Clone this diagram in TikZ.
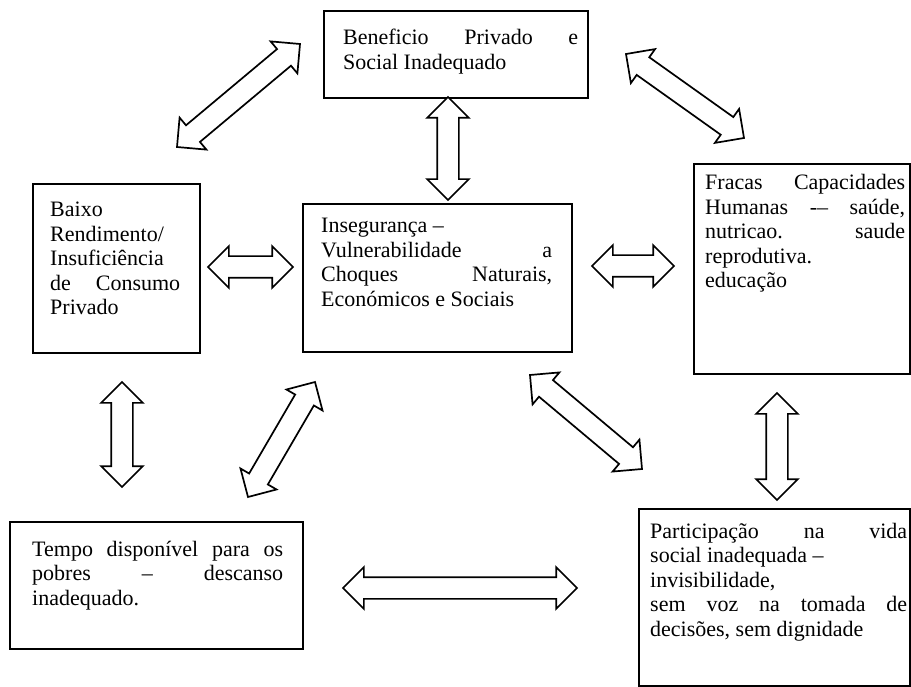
\documentclass[tikz,border=0pt]{standalone}
\usepackage{fontspec}
\setmainfont{Liberation Serif}
\usetikzlibrary{shapes.arrows,calc}
\tolerance=10000
\hyphenpenalty=10000

\tikzset{
  caixa/.style={draw, line width=1.8pt, inner sep=0pt, anchor=north west},
  texto/.style={inner sep=0pt, anchor=base west, align=justify,
    font=\fontsize{22}{24.5}\selectfont},
  seta/.style={double arrow, draw, line width=1.7pt, inner xsep=0pt, inner ysep=10pt,
    minimum width=41pt, double arrow head extend=10pt, fill=white}
}
% seta dupla oca entre dois pontos
\newcommand{\setadupla}[2]{%
  \path let \p1=(#1), \p2=(#2), \n1={veclen(\x2-\x1,\y2-\y1)},
    \n2={atan2(\y2-\y1,\x2-\x1)} in
    node[seta, minimum height=\n1, rotate=\n2] (s#1) at ($(#1)!.5!(#2)$) {};}

\begin{document}
\begin{tikzpicture}[x=1pt,y=-1pt]
\fill[white] (0,0) rectangle (911,687);
\useasboundingbox (0,0) rectangle (911,687);
%
% caixas
\node[caixa, minimum width=264pt, minimum height=87pt] (benef) at (323,10) {};
\node[caixa, minimum width=167pt, minimum height=169pt] (baixo) at (32,183) {};
\node[caixa, minimum width=269pt, minimum height=148pt] (inseg) at (302,203) {};
\node[caixa, minimum width=216pt, minimum height=210pt] (fracas) at (693,163) {};
\node[caixa, minimum width=293pt, minimum height=127pt] (tempo) at (9,521) {};
\node[caixa, minimum width=271pt, minimum height=177pt] (partic) at (638,508) {};
%
% textos
\node[texto, text width=235pt] (benef-t) at (343,45)
  {Beneficio Privado e\linebreak Social Inadequado};
\node[texto, text width=130pt] (baixo-t) at (50,217)
  {Baixo\newline Rendimento/\newline Insuficiência\newline de Consumo\linebreak Privado};
\node[texto, text width=231pt] (inseg-t) at (321,233)
  {Insegurança –\newline Vulnerabilidade a\linebreak Choques Naturais,\linebreak Económicos e Sociais};
\node[texto, text width=200pt] (fracas-t) at (705,190)
  {Fracas Capacidades\linebreak Humanas -– saúde,\linebreak nutricao. saude\linebreak reprodutiva.\newline educação};
\node[texto, text width=251pt] (tempo-t) at (32,556)
  {Tempo disponível para os\linebreak pobres – descanso\linebreak inadequado.};
\node[texto, text width=257pt] (partic-t) at (650,538)
  {Participação na vida\linebreak social inadequada –\newline invisibilidade,\newline sem voz na tomada de\linebreak decisões, sem dignidade};
%
% setas
\coordinate (tl1) at (177,147); \coordinate (tl2) at (300,44);
\coordinate (tr1) at (626,54);  \coordinate (tr2) at (744,138);
\coordinate (vc1) at (448,97);  \coordinate (vc2) at (448,200);
\coordinate (hl1) at (208,267); \coordinate (hl2) at (293,267);
\coordinate (hr1) at (592,266); \coordinate (hr2) at (674,266);
\coordinate (vl1) at (122,382); \coordinate (vl2) at (122,487);
\coordinate (dl1) at (248,497); \coordinate (dl2) at (315,382);
\coordinate (dr1) at (530,375); \coordinate (dr2) at (642,469);
\coordinate (vr1) at (777,393); \coordinate (vr2) at (777,500);
\coordinate (hb1) at (343,588); \coordinate (hb2) at (577,588);
\foreach \a/\b in {tl1/tl2,tr1/tr2,vc1/vc2,hl1/hl2,hr1/hr2,%
vl1/vl2,dl1/dl2,dr1/dr2,vr1/vr2,hb1/hb2}
\setadupla{\a}{\b};
\end{tikzpicture}
\end{document}
